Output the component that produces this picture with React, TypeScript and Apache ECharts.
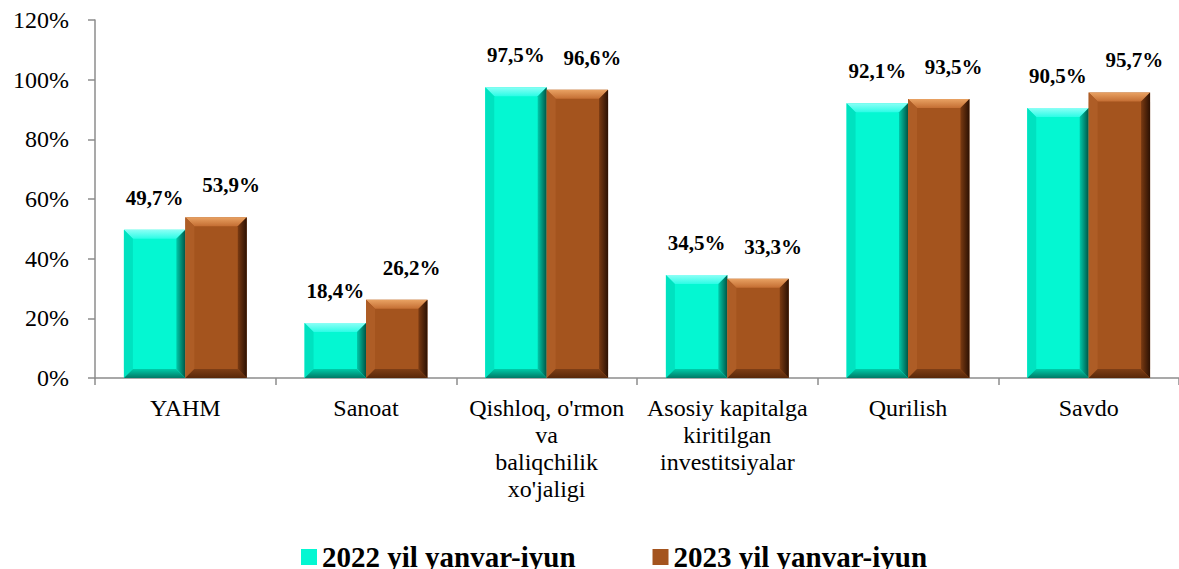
import React, { useEffect, useRef } from "react";
import * as echarts from "echarts";

const categories = [
  "YAHM",
  "Sanoat",
  "Qishloq, o'rmon\nva\nbaliqchilik\nxo'jaligi",
  "Asosiy kapitalga\nkiritilgan\ninvestitsiyalar",
  "Qurilish",
  "Savdo",
];
const seriesNames = ["2022 yil yanvar-iyun", "2023 yil yanvar-iyun"];
const values2022 = [49.7, 18.4, 97.5, 34.5, 92.1, 90.5];
const values2023 = [53.9, 26.2, 96.6, 33.3, 93.5, 95.7];
const yMin = 0;
const yMax = 120;
const yInterval = 20;

const SERIF = "Liberation Serif";

const palettes = [
  {
    main: "#04F7D2",
    topOuter: "#8CFFF6",
    topInner: "#2BFCE6",
    left: "#00E2C0",
    rightInner: "#00C9AA",
    rightOuter: "#005646",
    bottomInner: "#00CBA8",
    bottomOuter: "#007A66",
  },
  {
    main: "#A4541E",
    topOuter: "#E9A263",
    topInner: "#C46E33",
    left: "#AE5D26",
    rightInner: "#7A3A12",
    rightOuter: "#2C1103",
    bottomInner: "#7E3E16",
    bottomOuter: "#582809",
  },
];

function grad(x2: number, y2: number, c1: string, c2: string) {
  return new echarts.graphic.LinearGradient(0, 0, x2, y2, [
    { offset: 0, color: c1 },
    { offset: 1, color: c2 },
  ]);
}

function fmt(v: number) {
  return v.toFixed(1).replace(".", ",") + "%";
}

function makeRender(s: number) {
  const pal = palettes[s];
  return (params: any, api: any) => {
    const idx = api.value(0);
    const val = api.value(1);
    const p0 = api.coord([idx, 0]);
    const p1 = api.coord([idx, val]);
    const band = api.size([1, 0])[0];
    const w = band * 0.34;
    const x = s === 0 ? p0[0] - w : p0[0];
    const y = p1[1];
    const h = p0[1] - p1[1];
    const b = Math.min(9, h / 2, w / 2);
    return {
      type: "group",
      children: [
        { type: "rect", shape: { x, y, width: w, height: h }, style: { fill: pal.main } },
        {
          type: "polygon",
          shape: { points: [[x, y], [x + w, y], [x + w - b, y + b], [x + b, y + b]] },
          style: { fill: grad(0, 1, pal.topOuter, pal.topInner) },
        },
        {
          type: "polygon",
          shape: { points: [[x, y], [x + b, y + b], [x + b, y + h - b], [x, y + h]] },
          style: { fill: pal.left },
        },
        {
          type: "polygon",
          shape: { points: [[x + w, y], [x + w, y + h], [x + w - b, y + h - b], [x + w - b, y + b]] },
          style: { fill: grad(1, 0, pal.rightInner, pal.rightOuter) },
        },
        {
          type: "polygon",
          shape: { points: [[x, y + h], [x + w, y + h], [x + w - b, y + h - b], [x + b, y + h - b]] },
          style: { fill: grad(0, 1, pal.bottomInner, pal.bottomOuter) },
        },
        {
          type: "text",
          x: x + w / 2 + (s === 1 ? 15 : 0),
          y: y - 32,
          style: {
            text: fmt(val),
            fill: "#000",
            fontSize: 21,
            fontWeight: "bold",
            fontFamily: SERIF,
            align: "center",
            verticalAlign: "middle",
          },
        },
      ],
    };
  };
}

export default function App() {
  const ref = useRef<HTMLDivElement>(null);
  useEffect(() => {
    if (!ref.current) return;
    const chart = echarts.init(ref.current, undefined, { renderer: "svg" });
    const allValues = [values2022, values2023];
    chart.setOption({
      animation: false,
      backgroundColor: "#fff",
      textStyle: { fontFamily: SERIF },
      grid: { left: 95, right: -11, top: 20, bottom: 191, containLabel: false },
      legend: {
        left: 296,
        top: 537,
        icon: "rect",
        itemWidth: 16,
        itemHeight: 16,
        itemGap: 77,
        textStyle: {
          fontFamily: SERIF,
          fontSize: 29,
          fontWeight: "bold",
          color: "#000",
          lineHeight: 30,
        },
        data: seriesNames,
      },
      xAxis: {
        type: "category",
        data: categories,
        axisLine: { show: true, lineStyle: { color: "#8c8c8c", width: 1.5 } },
        axisTick: { show: true, length: 7, lineStyle: { color: "#8c8c8c", width: 1.5 } },
        axisLabel: {
          interval: 0,
          margin: 16,
          color: "#000",
          fontFamily: SERIF,
          fontSize: 24,
          lineHeight: 27,
        },
      },
      yAxis: {
        type: "value",
        min: yMin,
        max: yMax,
        interval: yInterval,
        splitLine: { show: false },
        axisLine: { show: true, lineStyle: { color: "#8c8c8c", width: 1.5 } },
        axisTick: { show: true, length: 7, lineStyle: { color: "#8c8c8c", width: 1.5 } },
        axisLabel: {
          margin: 26,
          color: "#000",
          fontFamily: SERIF,
          fontSize: 24,
          formatter: "{value}%",
        },
      },
      series: [0, 1].map((s) => ({
        type: "custom",
        name: seriesNames[s],
        renderItem: makeRender(s),
        encode: { x: 0, y: 1 },
        itemStyle: { color: palettes[s].main },
        data: allValues[s].map((v, i) => [i, v]),
      })),
    });
    return () => chart.dispose();
  }, []);
  return (
    <div
      ref={ref}
      style={{ position: "fixed", left: 0, top: 0, width: 1179, height: 569 }}
    />
  );
}
